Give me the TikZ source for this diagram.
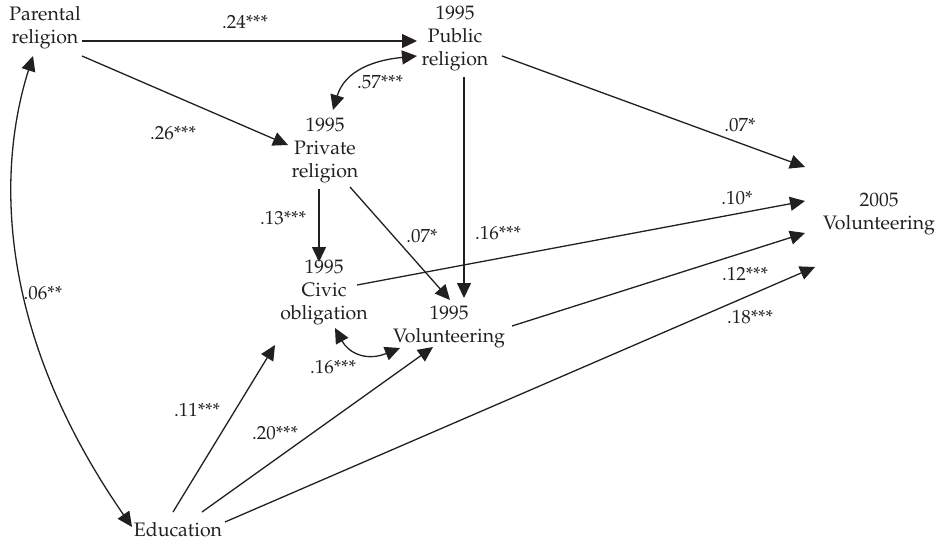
\documentclass[tikz,border=0pt]{standalone}
\usepackage[T1]{fontenc}
\usepackage{mathpazo}
\usetikzlibrary{arrows.meta}
\definecolor{ink}{HTML}{231F20}
\begin{document}
\begin{tikzpicture}[x=1pt,y=-1pt,
  lbl/.style={inner sep=0pt, align=center, text=ink, font=\fontsize{19.5}{23}\selectfont},
  coef/.style={inner sep=0pt, text=ink, font=\fontsize{19}{22}\selectfont},
  conn/.style={draw=ink, line width=1.3pt, -{Triangle[length=15pt,width=14pt]}},
  bi/.style={draw=ink, line width=1.3pt, {Triangle[length=15pt,width=14pt]}-{Triangle[length=15pt,width=14pt]}}]
\useasboundingbox (0,0) rectangle (941,543);
% nodes
\node[lbl] (par)  at (45,28)   {Parental\\religion};
\node[lbl] (pub)  at (455,38)  {1995\\Public\\religion};
\node[lbl] (priv) at (325,150) {1995\\Private\\religion};
\node[lbl] (civ)  at (324,292) {1995\\Civic\\obligation};
\node[lbl] (vol)  at (449,327) {1995\\Volunteering};
\node[lbl] (v05)  at (879,214) {2005\\Volunteering};
\node[lbl] (edu)  at (178,530) {Education};
% connectors
\draw[conn] ([shift={(37,13)}]par.center) -- ([shift={(-38,3)}]pub.center);
\draw[conn] ([shift={(37,28)}]par.center) -- ([shift={(-37,-5)}]priv.center);
\draw[bi] ([shift={(-38,18)}]pub.center) .. controls (375,60) and (345,70) .. ([shift={(8,-40)}]priv.center);
\draw[conn] ([shift={(47,18)}]pub.center) -- ([shift={(-74,-47)}]v05.center);
\draw[conn] ([shift={(9,39)}]pub.center) -- ([shift={(15,-29)}]vol.center);
\draw[conn] ([shift={(-6,39)}]priv.center) -- ([shift={(-5,-30)}]civ.center);
\draw[conn] ([shift={(25,37)}]priv.center) -- ([shift={(1,-27)}]vol.center);
\draw[conn] ([shift={(33,-7)}]civ.center) -- ([shift={(-74,-13)}]v05.center);
\draw[conn] ([shift={(63,-1)}]vol.center) -- ([shift={(-74,19)}]v05.center);
\draw[conn] ([shift={(47,-8)}]edu.center) -- ([shift={(-64,53)}]v05.center);
\draw[conn] ([shift={(-5,-18)}]edu.center) -- ([shift={(-49,53)}]civ.center);
\draw[conn] ([shift={(24,-18)}]edu.center) -- ([shift={(-16,20)}]vol.center);
\draw[bi] ([shift={(11,36)}]civ.center) .. controls (348,352) and (365,362) .. ([shift={(-49,21)}]vol.center);
\draw[bi] ([shift={(-12,28)}]par.center) .. controls (0,160) and (-10,322) .. ([shift={(-46,-3)}]edu.center);
% coefficients
\node[coef] (c1)  at (245,22)  {.24***};
\node[coef] (c2)  at (173,133) {.26***};
\node[coef] (c3)  at (380,82)  {.57***};
\node[coef] (c4)  at (740,125) {.07*};
\node[coef] (c5)  at (498,233) {.16***};
\node[coef] (c6)  at (283,218) {.13***};
\node[coef] (c7)  at (422,236) {.07*};
\node[coef] (c8)  at (737,198) {.10*};
\node[coef] (c9)  at (745,274) {.12***};
\node[coef] (c10) at (750,317) {.18***};
\node[coef] (c11) at (197,410) {.11***};
\node[coef] (c12) at (275,433) {.20***};
\node[coef] (c13) at (333,367) {.16***};
\node[coef] (c14) at (43,293)  {.06**};
\end{tikzpicture}
\end{document}
